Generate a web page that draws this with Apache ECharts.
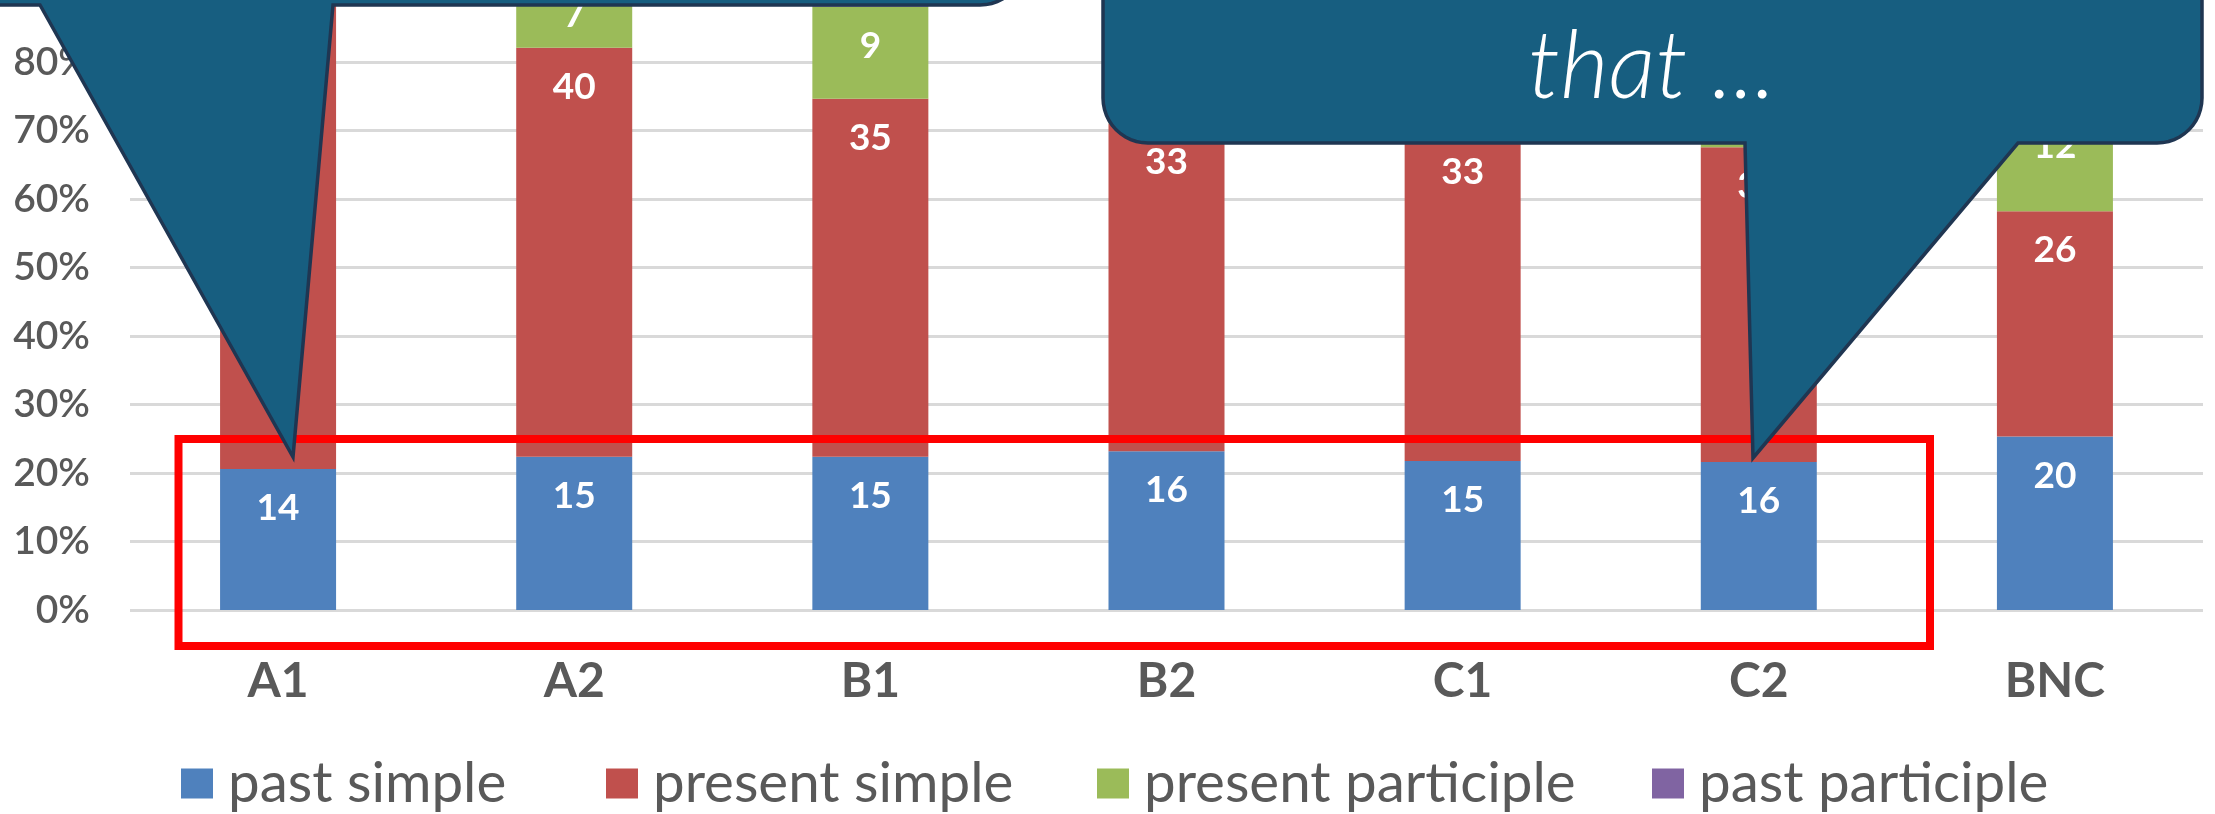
<!DOCTYPE html>
<html>
<head>
<meta charset="utf-8">
<script src="https://cdn.jsdelivr.net/npm/echarts@6/dist/echarts.min.js"></script>
<style>
  html, body { margin: 0; padding: 0; background: #ffffff; }
  #chart { width: 2215px; height: 814px; }
</style>
</head>
<body>
<div id="chart"></div>
<script>
// Verb-form counts per proficiency level (and the BNC reference corpus)
const categories = ['A1', 'A2', 'B1', 'B2', 'C1', 'C2', 'BNC'];
const seriesNames = ['past simple', 'present simple', 'present participle', 'past participle'];
const pastSimple        = [14, 15, 15, 16, 15, 16, 20];
const presentSimple     = [47, 40, 35, 33, 33, 34, 26];
const presentParticiple = [ 5,  7,  9, 12, 13, 15, 12];
const pastParticiple    = [ 2,  5,  8,  8,  8,  9, 21];
const yTickLabels = ['0%', '10%', '20%', '30%', '40%', '50%', '60%', '70%', '80%', '90%', '100%'];

const seriesColors = ['#4F81BD', '#C0504D', '#9BBB59', '#8064A2'];
const counts = [pastSimple, presentSimple, presentParticiple, pastParticiple];

// 100% stacked: each segment is its share of the column total
const totals = categories.map((_, i) => counts.reduce((s, arr) => s + arr[i], 0));

const chart = echarts.init(document.getElementById('chart'), null, { renderer: 'canvas' });

const series = counts.map((arr, k) => ({
  name: seriesNames[k],
  type: 'bar',
  stack: 'share',
  barWidth: 116,
  itemStyle: { color: seriesColors[k] },
  label: {
    show: true,
    position: 'insideTop',
    distance: 19,
    color: '#ffffff',
    fontFamily: 'Lato',
    fontWeight: 'bold',
    fontSize: 37,
    lineHeight: 40,
    formatter: p => p.data.count
  },
  data: arr.map((c, i) => ({ value: c / totals[i] * 100, count: c }))
}));

// Quarter-circle corner as a list of points (centre cx,cy, radius r, from angle a0 to a1)
function arcPoints(cx, cy, r, a0, a1, steps) {
  const pts = [];
  for (let s = 0; s <= steps; s++) {
    const a = a0 + (a1 - a0) * s / steps;
    pts.push([cx + r * Math.cos(a), cy + r * Math.sin(a)]);
  }
  return pts;
}

// Speech bubble whose body ends at "bottom" and whose tail points at "tip"
function bubble(left, right, bottom, radius, tailLeft, tip, tailRight, roundLeft) {
  const pts = [[left, -300]];
  if (roundLeft) {
    pts.push(...arcPoints(left + radius, bottom - radius, radius, Math.PI, Math.PI / 2, 12));
  } else {
    pts.push([left, bottom]);
  }
  pts.push([tailLeft, bottom], tip, [tailRight, bottom]);
  pts.push(...arcPoints(right - radius, bottom - radius, radius, Math.PI / 2, 0, 12));
  pts.push([right, -300]);
  return pts;
}

const calloutFill = '#175E80';
const calloutStroke = '#1F3652';

// One legend block per series so each entry sits at its own offset
const legendLefts = [181, 606, 1097, 1652];
const legends = seriesNames.map((name, k) => ({
  data: [name],
  left: legendLefts[k],
  top: 755,
  padding: 0,
  icon: 'rect',
  itemWidth: 32,
  itemHeight: 30,
  textStyle: {
    color: '#595959',
    fontFamily: 'Lato',
    fontSize: 56.5,
    padding: [0, 0, 0, 10]
  }
}));

chart.setOption({
  animation: false,
  backgroundColor: '#ffffff',
  grid: {
    left: 130,
    right: 12,
    top: -75,
    bottom: 204,
    outerBoundsMode: 'none',
    containLabel: false
  },
  xAxis: {
    type: 'category',
    data: categories,
    axisLine: { show: false },
    axisTick: { show: false },
    axisLabel: {
      margin: 48,
      color: '#595959',
      fontFamily: 'Lato',
      fontWeight: 'bold',
      fontSize: 48
    }
  },
  yAxis: {
    type: 'value',
    min: 0,
    max: 100,
    interval: 10,
    axisLine: { show: false },
    axisTick: { show: false },
    splitLine: { show: true, lineStyle: { color: '#D9D9D9', width: 3 } },
    axisLabel: {
      margin: 40,
      color: '#595959',
      fontFamily: 'Lato',
      fontWeight: 600,
      fontSize: 39,
      formatter: v => yTickLabels[Math.round(v / 10)]
    }
  },
  legend: legends,
  series: series,
  graphic: [
    {
      type: 'rect',
      z: 100,
      shape: { x: 178.5, y: 439, width: 1751.5, height: 207 },
      style: { fill: 'none', stroke: '#FF0000', lineWidth: 8 }
    },
    {
      type: 'polygon',
      z: 110,
      shape: { points: bubble(-20, 1025, 5, 45, 40, [293, 457], 333, false) },
      style: { fill: calloutFill, stroke: calloutStroke, lineWidth: 3.5, lineJoin: 'miter' }
    },
    {
      type: 'polygon',
      z: 110,
      shape: { points: bubble(1103, 2202, 143, 45, 1745, [1753, 458], 2018, true) },
      style: { fill: calloutFill, stroke: calloutStroke, lineWidth: 3.5, lineJoin: 'miter' }
    },
    {
      type: 'text',
      z: 120,
      x: 1652,
      y: 68,
      style: {
        text: 'that ...',
        fill: '#ffffff',
        font: 'italic 300 94px Lato',
        align: 'center',
        verticalAlign: 'middle'
      }
    }
  ]
});
</script>
</body>
</html>
